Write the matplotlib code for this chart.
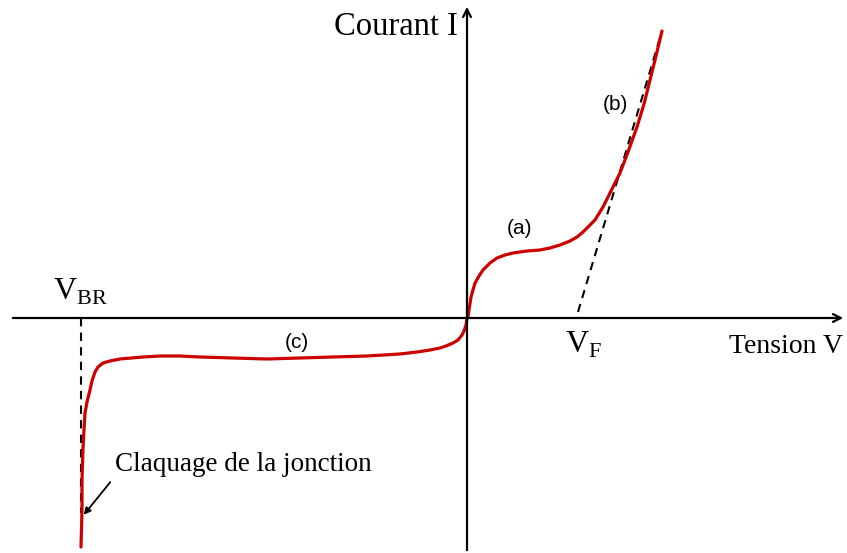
import matplotlib
matplotlib.use("Agg")
import matplotlib.pyplot as plt

# Diode characteristic (V, I in arbitrary units, origin at axes crossing)
fwd_v = [0, 1, 2, 4, 8, 12, 16, 23, 30, 38, 46, 60, 73, 83, 93, 103, 110, 116, 120,
         124, 128, 136, 144, 153, 161, 170, 177, 183, 189, 195]
fwd_i = [0, 1, 8, 21, 35, 42, 48, 55, 60, 63, 65, 67, 68, 70, 73, 77, 81, 86, 90,
         94, 98, 111, 127, 145, 166, 191, 214, 238, 262, 287]

rev_v = [0, -1, -3, -5, -9, -14, -21, -27, -37, -50, -67, -100, -134, -167, -200, -234,
         -267, -287, -307, -324, -347, -357, -364, -369, -372, -375, -377, -380, -382,
         -383, -384, -385, -385, -386]
rev_i = [0, -7, -13, -17, -22, -25, -28, -30, -32, -34, -36, -38, -39, -40, -41, -40,
         -39, -38, -38, -39, -41, -43, -45, -49, -54, -63, -72, -84, -95,
         -112, -130, -162, -192, -229]

# asymptote / tangent lines
tangent_v = [111, 195]
tangent_i = [6, 287]
vbr_v = [-386, -386]
vbr_i = [0, -195]

plt.rcParams["mathtext.fontset"] = "custom"
plt.rcParams["mathtext.rm"] = "Liberation Serif"

fig = plt.figure(figsize=(8.47, 5.53), dpi=100)
ax = fig.add_axes([0, 0, 1, 1])
ax.set_xlim(-467, 380)
ax.set_ylim(-235, 318)
ax.axis("off")

# axes with open arrow heads
ax.annotate("", xy=(379, 0), xytext=(-457, 0),
            arrowprops=dict(arrowstyle="->", lw=1.6, color="black", mutation_scale=14))
ax.annotate("", xy=(0, 314), xytext=(0, -235),
            arrowprops=dict(arrowstyle="->", lw=1.6, color="black", mutation_scale=14))

ax.plot(tangent_v, tangent_i, color="black", lw=1.5, ls=(0, (4, 3)))
ax.plot(vbr_v, vbr_i, color="black", lw=1.5, ls=(0, (4, 3)))

red = "#cc0000"
ax.plot(fwd_v, fwd_i, color=red, lw=2.3, solid_capstyle="round", solid_joinstyle="round")
ax.plot(rev_v, rev_i, color=red, lw=2.3, solid_capstyle="round", solid_joinstyle="round")

serif = "Liberation Serif"
ax.text(-9, 283, "Courant I", family=serif, fontsize=23.5, ha="right", va="baseline")
ax.text(376, -35, "Tension V", family=serif, fontsize=20, ha="right", va="baseline")
ax.text(-414, 18, r"$\mathrm{V}_{\mathrm{BR}}$", fontsize=23, ha="left", va="baseline")
ax.text(98, -35, r"$\mathrm{V}_{\mathrm{F}}$", fontsize=23, ha="left", va="baseline")
ax.text(-352, -153, "Claquage de la jonction", family=serif, fontsize=19.5,
        ha="left", va="baseline")
ax.annotate("", xy=(-385, -199), xytext=(-355, -162),
            arrowprops=dict(arrowstyle="-|>", lw=1.3, color="black", mutation_scale=10))

sans = "Liberation Sans"
ax.text(53, 90, "(a)", family=sans, fontsize=15, ha="center", va="center")
ax.text(148, 213, "(b)", family=sans, fontsize=15, ha="center", va="center")
ax.text(-170, -25, "(c)", family=sans, fontsize=15, ha="center", va="center")

fig.savefig("out.png", dpi=100)
